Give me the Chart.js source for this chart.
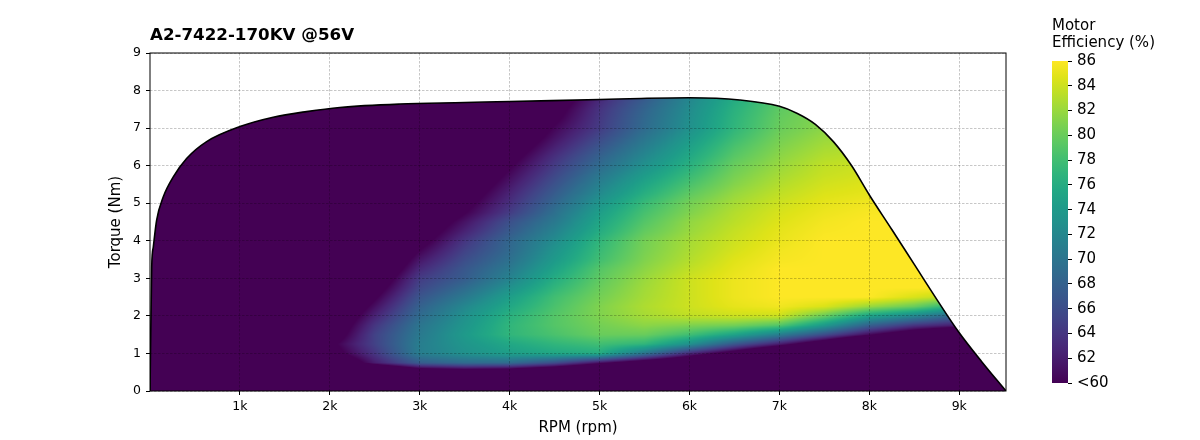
<!DOCTYPE html>
<html><head><meta charset="utf-8">
<script src="https://cdn.jsdelivr.net/npm/chart.js@4.4.1/dist/chart.umd.min.js"></script>
<style>
html,body{margin:0;padding:0;background:#fff;}
#wrap{position:relative;width:1200px;height:440px;overflow:hidden;}
#main{position:absolute;left:0;top:0;}
#cbar{position:absolute;left:1000px;top:0;}
</style></head><body>
<div id="wrap">
<canvas id="main" width="1200" height="440"></canvas>
<canvas id="cbar" width="200" height="440"></canvas>
</div>
<script>
// ---------- texts ----------
const chartTitle = 'A2-7422-170KV @56V';
const xAxisTitle = 'RPM (rpm)';
const yAxisTitle = 'Torque (Nm)';
const colorbarTitle = ['Motor', 'Efficiency (%)'];

// ---------- ticks ----------
const xTickValues = [1000, 2000, 3000, 4000, 5000, 6000, 7000, 8000, 9000];
const xTickLabels = ['1k', '2k', '3k', '4k', '5k', '6k', '7k', '8k', '9k'];
const yTickValues = [0, 1, 2, 3, 4, 5, 6, 7, 8, 9];
const colorbarTicks = [60, 62, 64, 66, 68, 70, 72, 74, 76, 78, 80, 82, 84, 86];
const colorbarLabels = ['<60', '62', '64', '66', '68', '70', '72', '74', '76', '78', '80', '82', '84', '86'];
const rpmMax = 9520;
const torqueMax = 9;
const effMin = 60;
const effMax = 86;

// ---------- torque envelope (max torque vs rpm) ----------
const envelopeRpm = [0, 19, 37, 74, 148, 259, 407, 630, 1000, 1370, 1741, 2111, 2778, 3500, 4000, 5000, 5460, 6000, 6560, 7000, 7200, 7400, 7600, 7800, 8000, 8250, 8500, 8750, 9000, 9250, 9520];
const envelopeTorque = [0, 3.31, 3.84, 4.55, 5.17, 5.70, 6.19, 6.64, 7.04, 7.29, 7.44, 7.55, 7.64, 7.68, 7.71, 7.76, 7.79, 7.81, 7.75, 7.58, 7.39, 7.10, 6.64, 6.01, 5.22, 4.30, 3.37, 2.44, 1.55, 0.78, 0.0];

// ---------- efficiency map (%; anything below 60 is shown as "<60") ----------
const gridRpm = [0, 500, 1000, 1500, 2000, 2500, 3000, 3500, 4000, 4500, 5000, 5500, 6000, 6500, 7000, 7500, 8000, 8500, 9000, 9500];
const gridTorque = [0, 0.25, 0.5, 0.75, 1, 1.25, 1.5, 1.75, 2, 2.25, 2.5, 2.75, 3, 3.25, 3.5, 3.75, 4, 4.25, 4.5, 4.75, 5, 5.25, 5.5, 5.75, 6, 6.25, 6.5, 6.75, 7, 7.25, 7.5, 7.75, 8];
const efficiency = [
  [40,40,40,40,40,40,40,40,40,40,40,40,40,40,40,40,40,40,40,40],
  [40,40,40,40,40,40,40,40,40,40,40,40,40,40,40,40,40,40,40,40],
  [40,40,40,40,40,49,55,56,55,52,48,44,40,40,40,40,40,40,40,40],
  [45,45,45,45,54,62,67.5,69,69,66,61,56.5,52.5,45,40,40,40,40,40,40],
  [50,50,50,50,58,64,71,73,74.5,75.5,76,70,63,57.5,51,44,40,40,40,40],
  [50,50,50,50,59,65,71,73.5,75.5,77,78,77,73,67,62,56,48.5,43.5,40,40],
  [50,50,50,50,57,65,70.5,74,77,78.5,80,80,78,75,71,66,60.5,56,51.5,48],
  [50,50,50,50,56,64,70,73.5,77,79,80.5,81.5,81,80.5,79,74,68,64,62,60],
  [50,50,50,50,55,62.5,69,73,76.5,79,81,82.5,83.5,84,84,80,75,72,68,66],
  [50,50,50,50,54,61,68,72,75.5,78.5,81,82.8,84,85,85.5,84.5,82,80,76,73],
  [50,50,50,50,53,59.5,66.8,70.5,74.5,78,80.5,82.5,84,85.3,86,86,86,84.5,83,81],
  [50,50,50,50,52,58,65.5,69,73,77,80,82.3,84,85.3,86,86,86,86,86,86],
  [50,50,50,50,51,56.5,64.5,67.5,71.5,76,79.5,82,84,85.3,86,86,86,86,86,86],
  [50,50,50,50,50,55,63,67,70.5,75,79,81.5,83.5,85,86,86,86,86,86,86],
  [50,50,50,50,50,54,61.5,66,69.5,74,78,81,83,84.7,85.7,86,86,86,86,86],
  [50,50,50,50,50,53,60,65,68.8,73.3,77.5,80.7,82.7,84.3,85.5,86,86,86,86,86],
  [50,50,50,50,50,52,58.5,64,68.5,72.5,77,80.5,82.5,84,85.2,86,86,86,86,86],
  [50,50,50,50,50,51,57.5,62.5,67.3,71.5,76,79.7,82,83.7,85,85.8,86,86,86,86],
  [50,50,50,50,50,50,56.5,61.3,66.3,70.5,75.3,79,81.7,83.3,84.7,85.6,86,86,86,86],
  [50,50,50,50,50,50,54.5,59.8,64.5,69.5,74.5,78.3,81,83,84.4,85.3,85.8,85.8,85.8,85.8],
  [50,50,50,50,50,50,53.3,58.8,63.5,68.5,73.5,77.5,80.5,82.5,84,85,85.5,85.5,85.5,85.5],
  [50,50,50,50,50,50,52.4,57.8,62.6,67.5,72.3,76.3,79.5,81.9,83.5,84.6,85,85,85,85],
  [50,50,50,50,50,50,51.5,56.8,61.6,66.5,71.3,75.3,78.5,81.2,83,84.2,84.7,84.7,84.7,84.7],
  [50,50,50,50,50,50,50.5,55.7,60.6,65.5,70.2,74.2,77.5,80.6,82.5,83.8,84.3,84.3,84.3,84.3],
  [50,50,50,50,50,50,50,54.6,59.6,64.5,69,73,76.5,80,82,83.5,84,84,84,84],
  [50,50,50,50,50,50,50,53.5,58.5,63.5,68,72,75.6,79.2,81.5,83,83.5,83.5,83.5,83.5],
  [50,50,50,50,50,50,50,52.4,57.4,62.3,66.8,71,74.8,78.5,81,82.5,83,83,83,83],
  [50,50,50,50,50,50,50,51.3,56.3,61.2,65.6,70,73.9,77.7,80.5,82,82.5,82.5,82.5,82.5],
  [50,50,50,50,50,50,50,50.2,55.2,60.3,64.5,69,73,77,80,81.5,82,82,82,82],
  [50,50,50,50,50,50,50,50,54.3,59.3,64.2,68.7,72.8,76.8,79.8,81.3,81.5,81.5,81.5,81.5],
  [50,50,50,50,50,50,50,50,53.5,58.5,63.8,68.3,72.5,76.5,79.5,81,81,81,81,81],
  [50,50,50,50,50,50,50,50,52.5,57.5,63,67.5,72,76,79,80.5,80.5,80.5,80.5,80.5],
  [50,50,50,50,50,50,50,50,51.5,56.5,62.5,67,71.5,75.5,78.5,80,80,80,80,80]
];

// ---------- colormap (viridis) ----------
const viridisStops = ['#440154','#471365','#482475','#463480','#414487','#3b528b','#355f8d','#2f6c8e','#2a788e','#25848e','#21918c','#1e9c89','#22a884','#2fb47c','#44bf70','#5ec962','#7ad151','#9bd93c','#bddf26','#dfe318','#fde725'];

const FONT = "'DejaVu Sans', 'Liberation Sans', sans-serif";
const viridisRGB = viridisStops.map(h => [parseInt(h.slice(1,3),16), parseInt(h.slice(3,5),16), parseInt(h.slice(5,7),16)]);
function viridis(f) {
  f = Math.max(0, Math.min(1, f));
  const p = f * (viridisRGB.length - 1);
  const i = Math.min(viridisRGB.length - 2, Math.floor(p));
  const t = p - i, a = viridisRGB[i], b = viridisRGB[i + 1];
  return [a[0] + (b[0]-a[0])*t, a[1] + (b[1]-a[1])*t, a[2] + (b[2]-a[2])*t];
}
function effAt(rpm, torque) {
  const nC = gridRpm.length, nR = gridTorque.length;
  const dR = gridRpm[1] - gridRpm[0], dT = gridTorque[1] - gridTorque[0];
  let fx = (rpm - gridRpm[0]) / dR; fx = Math.max(0, Math.min(nC - 1.000001, fx));
  let fy = (torque - gridTorque[0]) / dT; fy = Math.max(0, Math.min(nR - 1.000001, fy));
  const c = Math.floor(fx), r = Math.floor(fy), tx = fx - c, ty = fy - r;
  const E = efficiency;
  return (1-ty) * ((1-tx) * E[r][c] + tx * E[r][c+1]) + ty * ((1-tx) * E[r+1][c] + tx * E[r+1][c+1]);
}

const heatmapPlugin = {
  id: 'heatmap',
  beforeDraw(chart) {
    const {ctx, chartArea: a} = chart;
    const xs = chart.scales.x, ys = chart.scales.y;
    const w = Math.round(a.right - a.left), h = Math.round(a.bottom - a.top);
    const off = document.createElement('canvas');
    off.width = w; off.height = h;
    const octx = off.getContext('2d');
    const img = octx.createImageData(w, h);
    const d = img.data;
    const rpmCols = [];
    for (let i = 0; i < w; i++) rpmCols.push(xs.getValueForPixel(a.left + i + 0.5));
    for (let j = 0; j < h; j++) {
      const tq = ys.getValueForPixel(a.top + j + 0.5);
      for (let i = 0; i < w; i++) {
        const v = effAt(rpmCols[i], tq);
        const col = viridis((v - effMin) / (effMax - effMin));
        const k = (j * w + i) * 4;
        d[k] = col[0]; d[k+1] = col[1]; d[k+2] = col[2]; d[k+3] = 255;
      }
    }
    octx.putImageData(img, 0, 0);
    const meta = chart.getDatasetMeta(0);
    const line = meta.dataset;
    ctx.save();
    ctx.beginPath();
    let done = false;
    if (line && typeof line.path === 'function') {
      try {
        if (typeof line.updateControlPoints === 'function') line.updateControlPoints(a, 'x');
        line.path(ctx);
        done = true;
      } catch (e) { ctx.beginPath(); }
    }
    if (!done) {
      meta.data.forEach((p, i) => i ? ctx.lineTo(p.x, p.y) : ctx.moveTo(p.x, p.y));
    }
    ctx.lineTo(xs.getPixelForValue(envelopeRpm[0]), ys.getPixelForValue(0));
    ctx.closePath();
    ctx.clip();
    ctx.drawImage(off, a.left, a.top, w, h);
    ctx.restore();
  },
  afterDatasetsDraw(chart) {
    const {ctx, chartArea: a} = chart;
    ctx.save();
    ctx.strokeStyle = '#000';
    ctx.lineWidth = 1;
    ctx.strokeRect(a.left, a.top, a.right - a.left, a.bottom - a.top);
    ctx.restore();
  },
  afterDraw(chart) {
    const {ctx, chartArea: a} = chart;
    ctx.save();
    ctx.fillStyle = '#000';
    ctx.font = "bold 16.7px " + FONT;
    ctx.textAlign = 'left';
    ctx.textBaseline = 'alphabetic';
    ctx.fillText(chartTitle, a.left, 39.5);
    ctx.restore();
  }
};

new Chart(document.getElementById('main'), {
  type: 'scatter',
  data: {
    datasets: [{
      data: envelopeRpm.map((x, i) => ({x: x, y: envelopeTorque[i]})),
      showLine: true,
      borderColor: '#000',
      borderWidth: 1.6,
      pointRadius: 0,
      cubicInterpolationMode: 'monotone',
      fill: false
    }]
  },
  options: {
    responsive: false,
    animation: false,
    devicePixelRatio: 1,
    events: [],
    layout: {padding: {left: 0, right: 194, top: 53, bottom: 0}},
    plugins: {legend: {display: false}, tooltip: {enabled: false}, title: {display: false}},
    scales: {
      x: {
        type: 'linear', min: 0, max: rpmMax,
        afterBuildTicks: s => { s.ticks = xTickValues.map(v => ({value: v})); },
        afterFit: s => { s.height = 49; },
        ticks: {
          callback: (v) => { const i = xTickValues.indexOf(v); return i >= 0 ? xTickLabels[i] : ''; },
          color: '#000', font: {family: FONT, size: 12.5}, padding: 4, maxRotation: 0, autoSkip: false
        },
        grid: {color: 'rgba(0,0,0,0.28)', lineWidth: 0.8, tickColor: '#000', tickWidth: 1, tickLength: 4, tickBorderDash: []},
        border: {display: false, dash: [2.5, 1.5]},
        title: {display: true, text: xAxisTitle, color: '#000', font: {family: FONT, size: 15}, padding: {top: 0, bottom: 3}}
      },
      y: {
        type: 'linear', min: 0, max: torqueMax,
        afterBuildTicks: s => { s.ticks = yTickValues.map(v => ({value: v})); },
        afterFit: s => { s.width = 150; },
        ticks: {color: '#000', font: {family: FONT, size: 12.5}, padding: 5},
        grid: {color: 'rgba(0,0,0,0.28)', lineWidth: 0.8, tickColor: '#000', tickWidth: 1, tickLength: 4, tickBorderDash: []},
        border: {display: false, dash: [2.5, 1.5]},
        title: {display: true, text: yAxisTitle, color: '#000', font: {family: FONT, size: 15}, padding: {top: 107, bottom: 0}}
      }
    }
  },
  plugins: [heatmapPlugin]
});

// ---------- colorbar ----------
const cbarTitlePlugin = {
  id: 'cbarTitle',
  afterDraw(chart) {
    const ctx = chart.ctx;
    ctx.save();
    ctx.fillStyle = '#000';
    ctx.font = "15px " + FONT;
    ctx.textAlign = 'left';
    ctx.textBaseline = 'alphabetic';
    ctx.fillText(colorbarTitle[0], 52, 29.5);
    ctx.fillText(colorbarTitle[1], 52, 46.5);
    ctx.restore();
  }
};

new Chart(document.getElementById('cbar'), {
  type: 'bar',
  data: {
    labels: [''],
    datasets: [{
      data: [[effMin, effMax]],
      backgroundColor: (c) => {
        const area = c.chart.chartArea;
        if (!area) return viridisStops[0];
        const g = c.chart.ctx.createLinearGradient(0, area.bottom, 0, area.top);
        viridisStops.forEach((s, i) => g.addColorStop(i / (viridisStops.length - 1), s));
        return g;
      },
      borderWidth: 0,
      barPercentage: 1,
      categoryPercentage: 1,
      inflateAmount: 0
    }]
  },
  options: {
    responsive: false,
    animation: false,
    devicePixelRatio: 1,
    events: [],
    layout: {padding: {left: 52, right: 0, top: 61, bottom: 57}},
    plugins: {legend: {display: false}, tooltip: {enabled: false}, title: {display: false}},
    scales: {
      x: {display: false},
      y: {
        position: 'right', min: effMin, max: effMax,
        afterBuildTicks: s => { s.ticks = colorbarTicks.map(v => ({value: v})); },
        afterFit: s => { s.width = 132; },
        ticks: {
          callback: (v) => { const i = colorbarTicks.indexOf(v); return i >= 0 ? colorbarLabels[i] : ''; },
          color: '#000', font: {family: FONT, size: 15}, padding: 5
        },
        grid: {drawOnChartArea: false, drawTicks: true, tickLength: 4, tickColor: '#000', tickWidth: 1},
        border: {display: false}
      }
    }
  },
  plugins: [cbarTitlePlugin]
});
</script>
</body></html>
